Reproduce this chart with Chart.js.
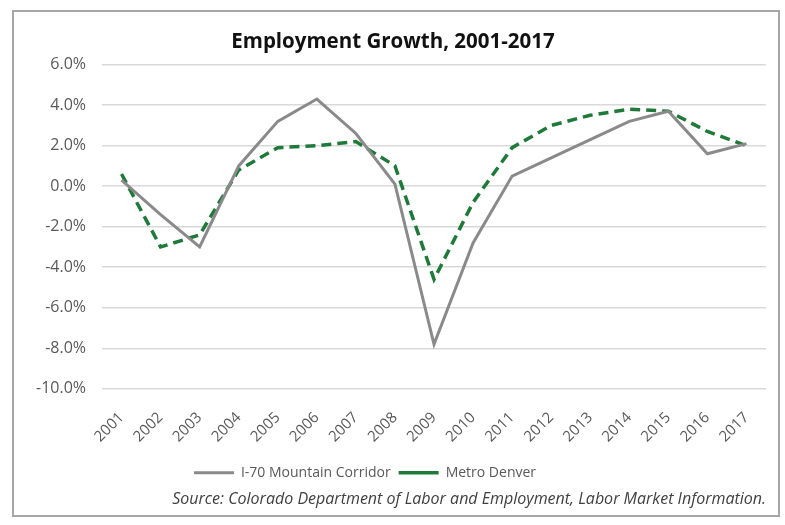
<!DOCTYPE html>
<html>
<head>
<meta charset="utf-8">
<script src="https://cdn.jsdelivr.net/npm/chart.js@4"></script>
<style>
  body { margin: 0; background: #fff; }
  .frame { position: absolute; left: 12px; top: 10px; width: 764px; height: 503px; border: 2px solid #a6a6a6; background: #fff; }
</style>
</head>
<body>
<div class="frame"><canvas id="myChart" width="764" height="503"></canvas></div>
<script>
const years = ['2001','2002','2003','2004','2005','2006','2007','2008','2009','2010','2011','2012','2013','2014','2015','2016','2017'];
const mountainCorridor = [0.3, -1.4, -3.0, 1.0, 3.2, 4.3, 2.6, 0.1, -7.8, -2.8, 0.5, 1.4, 2.3, 3.2, 3.7, 1.6, 2.1];
const metroDenver = [0.6, -3.0, -2.4, 0.8, 1.9, 2.0, 2.2, 1.0, -4.6, -0.8, 1.9, 3.0, 3.5, 3.8, 3.7, 2.7, 2.0];
const yMin = -10, yMax = 6, yStep = 2;

// legend sits a little left of centre in the original
const legendShift = {
	id: 'legendShift',
	afterLayout(chart) {
		chart.legend.left -= 28;
		chart.legend.right -= 28;
	}
};

window.onload = function () {
	const ctx = document.getElementById('myChart').getContext('2d');
	const myChart = new Chart(ctx, {
		type: 'line',
		data: {
			labels: years,
			datasets: [{
				label: 'I-70 Mountain Corridor',
				data: mountainCorridor,
				borderColor: '#8a8a8a',
				backgroundColor: '#8a8a8a',
				borderWidth: 3,
				pointRadius: 0,
				tension: 0
			}, {
				label: 'Metro Denver',
				data: metroDenver,
				borderColor: '#1f7a3a',
				backgroundColor: '#1f7a3a',
				borderWidth: 3.5,
				borderDash: [10, 6],
				pointRadius: 0,
				tension: 0
			}]
		},
		options: {
			responsive: false,
			animation: false,
			layout: { padding: { left: 6, right: 12, top: 12, bottom: 4 } },
			scales: {
				x: {
					offset: true,
					grid: { display: false },
					border: { display: false },
					ticks: {
						color: '#595959',
						font: { family: 'Open Sans', size: 15 },
						padding: 12,
						maxRotation: 45,
						minRotation: 45,
						autoSkip: false
					}
				},
				y: {
					min: yMin,
					max: yMax,
					grid: { color: '#d9d9d9', lineWidth: 1.5, drawTicks: false },
					border: { display: false },
					ticks: {
						stepSize: yStep,
						padding: 16,
						color: '#595959',
						font: { family: 'Open Sans', size: 16 },
						callback: function (value) { return value.toFixed(1) + '%'; }
					}
				}
			},
			plugins: {
				title: {
					display: true,
					text: 'Employment Growth, 2001-2017',
					color: '#111',
					font: { family: 'Open Sans', size: 20.5, weight: 'bold' },
					padding: { top: 6, bottom: 10 }
				},
				legend: {
					position: 'bottom',
					labels: {
						usePointStyle: true,
						pointStyle: 'line',
						pointStyleWidth: 40,
						color: '#595959',
						font: { family: 'Open Sans', size: 14 },
						padding: 8
					}
				},
				subtitle: {
					display: true,
					position: 'bottom',
					align: 'end',
					text: 'Source: Colorado Department of Labor and Employment, Labor Market Information.',
					color: '#404040',
					font: { family: 'Open Sans', size: 16, style: 'italic' },
					padding: { top: 0, bottom: 2 }
				},
				tooltip: { enabled: false }
			}
		},
		plugins: [legendShift]
	});
};
</script>
</body>
</html>
